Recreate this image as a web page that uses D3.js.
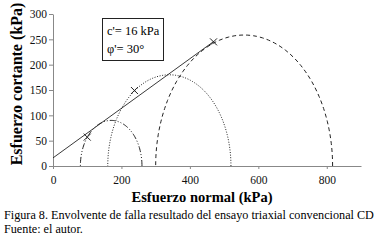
<!DOCTYPE html>
<html>
<head>
<meta charset="utf-8">
<script src="https://cdn.jsdelivr.net/npm/d3@7"></script>
<style>
  body { margin: 0; background: #fff; }
  text { font-family: "Liberation Serif", "Times New Roman", serif; }
</style>
</head>
<body>
<svg id="chart" width="380" height="243"></svg>
<script>
// Mohr circles: sigma3 and sigma1 (kPa)
const sigma3 = [80, 160, 300];
const sigma1 = [260, 520, 817];
const circleDash = ["6,2,1,2,1,2", "1,1.6", "4,3"];

// failure envelope (sigma, tau)
const envSigma = [0, 470];
const envTau = [16, 246];

// tangent / failure points
const failSigma = [100, 238, 469];
const failTau = [57, 149, 245];

const xTicks = [0, 200, 400, 600, 800];
const yTicks = [0, 50, 100, 150, 200, 250, 300];

const svg = d3.select("#chart");

const padding = { left: 53, right: 19, top: 14, bottom: 77 };
const x = d3.scaleLinear().domain([0, 900]).range([padding.left, 380 - padding.right]);
const y = d3.scaleLinear().domain([0, 300]).range([243 - padding.bottom, padding.top]);

// axes
const xAxis = svg.append("g")
    .attr("transform", `translate(0,${y(0)})`)
    .call(d3.axisBottom(x).tickValues(xTicks).tickSize(3).tickSizeOuter(0));
const yAxis = svg.append("g")
    .attr("transform", `translate(${x(0)},0)`)
    .call(d3.axisLeft(y).tickValues(yTicks).tickSize(4).tickSizeOuter(0));

[xAxis, yAxis].forEach(g => {
    g.select(".domain").attr("stroke", "#888");
    g.selectAll(".tick line").attr("stroke", "#888");
    g.selectAll(".tick text")
        .attr("fill", "#111")
        .style("font-size", "11.5px")
        .style("font-family", "'Liberation Serif', serif");
});
xAxis.selectAll(".tick text").attr("dy", "1.05em");
yAxis.selectAll(".tick text").attr("x", -6);

// axis titles
svg.append("text")
    .attr("x", 202)
    .attr("y", 202)
    .attr("text-anchor", "middle")
    .style("font-size", "14.5px")
    .style("font-weight", "bold")
    .text("Esfuerzo normal (kPa)");
svg.append("text")
    .attr("transform", `translate(22,84) rotate(-90)`)
    .attr("text-anchor", "middle")
    .style("font-size", "16px")
    .style("font-weight", "bold")
    .text("Esfuerzo cortante (kPa)");

// Mohr circles
const angles = d3.range(0, 181, 2).map(a => a * Math.PI / 180);
const line = d3.line().x(d => x(d[0])).y(d => y(d[1]));
sigma3.forEach((s3, i) => {
    const c = (s3 + sigma1[i]) / 2;
    const r = (sigma1[i] - s3) / 2;
    const pts = angles.map(a => [c + r * Math.cos(a), r * Math.sin(a)]);
    svg.append("path")
        .attr("d", line(pts))
        .attr("fill", "none")
        .attr("stroke", "#222")
        .attr("stroke-width", 1)
        .attr("stroke-dasharray", circleDash[i]);
});

// envelope
svg.append("path")
    .attr("d", line(envSigma.map((s, i) => [s, envTau[i]])))
    .attr("fill", "none")
    .attr("stroke", "#222")
    .attr("stroke-width", 0.9);

// X markers
failSigma.forEach((s, i) => {
    const cx = x(s), cy = y(failTau[i]);
    svg.append("path")
        .attr("d", `M${cx - 3.5},${cy - 3.5}L${cx + 3.5},${cy + 3.5}M${cx - 3.5},${cy + 3.5}L${cx + 3.5},${cy - 3.5}`)
        .attr("stroke", "#222")
        .attr("stroke-width", 1);
});

// parameter box
svg.append("rect")
    .attr("x", 102.5).attr("y", 18.5)
    .attr("width", 61).attr("height", 42)
    .attr("fill", "#fff")
    .attr("stroke", "#222")
    .attr("stroke-width", 1);
svg.append("text").attr("x", 107).attr("y", 35)
    .style("font-size", "12.5px").text("c'= 16 kPa");
svg.append("text").attr("x", 107).attr("y", 53)
    .style("font-size", "12.5px").text("φ'= 30°");

// caption
svg.append("text").attr("x", 4).attr("y", 219)
    .style("font-size", "12.2px")
    .text("Figura 8. Envolvente de falla resultado del ensayo triaxial convencional CD");
svg.append("text").attr("x", 4).attr("y", 233)
    .style("font-size", "12.2px")
    .text("Fuente: el autor.");
</script>
</body>
</html>
